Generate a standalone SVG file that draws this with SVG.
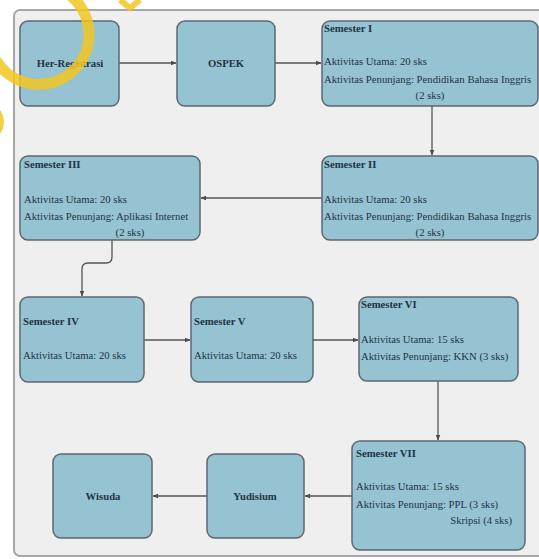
<svg xmlns="http://www.w3.org/2000/svg" width="539" height="559" viewBox="0 0 539 559">
<defs>
<marker id="arr" viewBox="0 0 10 10" refX="9" refY="5" markerWidth="6" markerHeight="6" markerUnits="userSpaceOnUse" orient="auto">
<path d="M0,1 L10,5 L0,9 z" fill="#4a4a4a"/>
</marker>
<style>
.node{fill:#95c3d2;stroke:#5b6870;stroke-width:1.5}
.t{font-size:10.7px;fill:#1f3443}
.b{font-weight:bold}
.c{text-anchor:middle}
.e{text-anchor:end}
.conn{fill:none;stroke:#555;stroke-width:1.3;marker-end:url(#arr)}
</style>
</defs>
<rect x="0" y="0" width="539" height="559" fill="#ffffff"/>
<rect x="14" y="10" width="540" height="546" rx="6" fill="#efefef" stroke="#a6a6a6" stroke-width="2"/>

<g id="connectors">
<path class="conn" d="M119,63 H176"/>
<path class="conn" d="M275,63 H321"/>
<path class="conn" d="M432,106 V155"/>
<path class="conn" d="M322,198 H201"/>
<path class="conn" d="M112,240 V257 Q112,263 106,263 H88 Q82,263 82,269 V296"/>
<path class="conn" d="M144,340 H190"/>
<path class="conn" d="M313,340 H358"/>
<path class="conn" d="M438,381 V440"/>
<path class="conn" d="M352,496 H305"/>
<path class="conn" d="M207,496 H153"/>
</g>

<g font-family="'Liberation Serif', 'DejaVu Serif', 'Times New Roman', serif">
<g id="her-registrasi">
<rect class="node" x="20" y="21" width="99" height="85" rx="8"/>
<text class="t b c" x="70" y="67">Her-Registrasi</text>
</g>
<g id="ospek">
<rect class="node" x="177" y="21" width="98" height="85" rx="8"/>
<text class="t b c" x="226" y="67">OSPEK</text>
</g>
<g id="semester-1">
<rect class="node" x="322" y="21" width="216" height="85" rx="8"/>
<text class="t b" x="324" y="32">Semester I</text>
<text class="t" x="324" y="65">Aktivitas Utama: 20 sks</text>
<text class="t" x="324" y="83">Aktivitas Penunjang: Pendidikan Bahasa Inggris</text>
<text class="t c" x="430" y="99">(2 sks)</text>
</g>
<g id="semester-2">
<rect class="node" x="322" y="156" width="216" height="84" rx="8"/>
<text class="t b" x="324" y="168">Semester II</text>
<text class="t" x="324" y="203">Aktivitas Utama: 20 sks</text>
<text class="t" x="324" y="220">Aktivitas Penunjang: Pendidikan Bahasa Inggris</text>
<text class="t c" x="430" y="236">(2 sks)</text>
</g>
<g id="semester-3">
<rect class="node" x="20" y="156" width="180" height="84" rx="8"/>
<text class="t b" x="24" y="168">Semester III</text>
<text class="t" x="24" y="203">Aktivitas Utama: 20 sks</text>
<text class="t" x="24" y="220">Aktivitas Penunjang: Aplikasi Internet</text>
<text class="t c" x="130" y="236">(2 sks)</text>
</g>
<g id="semester-4">
<rect class="node" x="20" y="297" width="124" height="85" rx="8"/>
<text class="t b" x="23" y="325">Semester IV</text>
<text class="t" x="23" y="359">Aktivitas Utama: 20 sks</text>
</g>
<g id="semester-5">
<rect class="node" x="191" y="297" width="122" height="85" rx="8"/>
<text class="t b" x="194" y="325">Semester V</text>
<text class="t" x="194" y="359">Aktivitas Utama: 20 sks</text>
</g>
<g id="semester-6">
<rect class="node" x="359" y="297" width="159" height="84" rx="8"/>
<text class="t b" x="361" y="308">Semester VI</text>
<text class="t" x="361" y="343">Aktivitas Utama: 15 sks</text>
<text class="t" x="361" y="360">Aktivitas Penunjang: KKN (3 sks)</text>
</g>
<g id="semester-7">
<rect class="node" x="352" y="441" width="173" height="109" rx="8"/>
<text class="t b" x="356" y="457">Semester VII</text>
<text class="t" x="356" y="490">Aktivitas Utama: 15 sks</text>
<text class="t" x="356" y="508">Aktivitas Penunjang: PPL (3 sks)</text>
<text class="t e" x="512" y="524">Skripsi (4 sks)</text>
</g>
<g id="wisuda">
<rect class="node" x="53" y="454" width="99" height="84" rx="8"/>
<text class="t b c" x="103" y="500">Wisuda</text>
</g>
<g id="yudisium">
<rect class="node" x="207" y="454" width="97" height="84" rx="8"/>
<text class="t b c" x="255" y="500">Yudisium</text>
</g>
</g>

<g id="watermark" fill="none" stroke="#f3c623" stroke-width="11" opacity="0.85">
<path d="M71,-4 A50,50 0 1 1 -4,60"/>
<path d="M120,0 L130,8 L140,0" stroke-width="6"/>
<path d="M-2,112 Q4,122 -2,132" stroke-width="6"/>
</g>
</svg>
